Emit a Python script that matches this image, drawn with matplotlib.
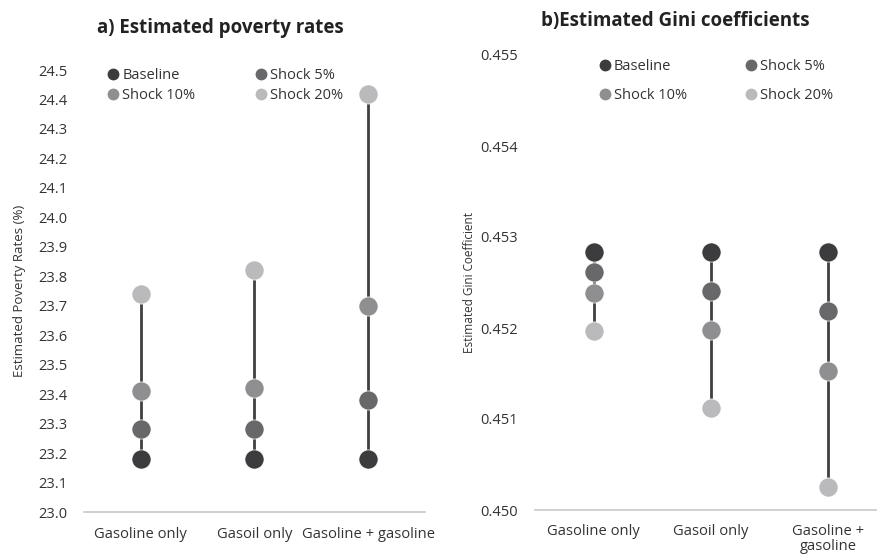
"""Dumbbell-style charts of poverty rates and Gini coefficients under price shocks."""

import matplotlib

matplotlib.use("Agg", force=True)
import matplotlib.pyplot as plt
from matplotlib.lines import Line2D

categories_a = ["Gasoline only", "Gasoil only", "Gasoline + gasoline"]
categories_b = ["Gasoline only", "Gasoil only", "Gasoline +\ngasoline"]
series_names = ["Baseline", "Shock 5%", "Shock 10%", "Shock 20%"]

poverty_baseline = [23.18, 23.18, 23.18]
poverty_shock5 = [23.28, 23.28, 23.38]
poverty_shock10 = [23.41, 23.42, 23.70]
poverty_shock20 = [23.74, 23.82, 24.42]

gini_baseline = [0.45283, 0.45283, 0.45283]
gini_shock5 = [0.45261, 0.45241, 0.45219]
gini_shock10 = [0.45239, 0.45198, 0.45153]
gini_shock20 = [0.45197, 0.45112, 0.45025]

poverty_ticks = [round(23.0 + 0.1 * i, 1) for i in range(16)]
gini_ticks = [0.450, 0.451, 0.452, 0.453, 0.454, 0.455]

COLORS = ["#3c3c3e", "#68686b", "#8f8f92", "#bababd"]
LINE_COLOR = "#404040"
TEXT_COLOR = "#333333"
FONT = "Open Sans"

plt.rcParams["font.family"] = [FONT, "DejaVu Sans"]

W, H = 878, 555
fig = plt.figure(figsize=(W / 100, H / 100), dpi=100)


def px_axes(x0, x1, y_top, y_bottom):
    return fig.add_axes([x0 / W, 1 - y_bottom / H, (x1 - x0) / W, (y_bottom - y_top) / H])


def draw_panel(ax, labels, series):
    x = list(range(len(labels)))
    for i in x:
        vals = [s[i] for s in series]
        ax.plot([i, i], [min(vals), max(vals)], color=LINE_COLOR, lw=2.0, zorder=1)
    for name, vals, color in zip(series_names, series, COLORS):
        ax.scatter(x, vals, s=190, color=color, edgecolors="white", linewidths=0.5, zorder=2, label=name)
    ax.set_xticks(x)
    ax.set_xticklabels(labels, fontsize=10.6, color=TEXT_COLOR, linespacing=1.05)
    ax.set_xlim(-0.5, 2.5)
    for side in ["top", "right", "left"]:
        ax.spines[side].set_visible(False)
    ax.spines["bottom"].set_color("#c8c8c8")
    ax.spines["bottom"].set_linewidth(1.2)
    ax.tick_params(axis="both", length=0, colors=TEXT_COLOR)


def legend_handles():
    return [
        Line2D([], [], marker="o", linestyle="", markersize=7.5, color=c)
        for c in COLORS
    ]


h = legend_handles()
leg_handles = [h[0], h[2], h[1], h[3]]
leg_labels = [series_names[0], series_names[2], series_names[1], series_names[3]]

# a) poverty rates
ax_a = px_axes(84, 425, 70, 512)
draw_panel(ax_a, categories_a, [poverty_baseline, poverty_shock5, poverty_shock10, poverty_shock20])
ax_a.set_ylim(23.0, 24.5)
ax_a.set_yticks(poverty_ticks)
ax_a.set_yticklabels([f"{t:.1f}" for t in poverty_ticks], fontsize=10.5)
ax_a.tick_params(axis="y", pad=12)
ax_a.tick_params(axis="x", pad=11)
ax_a.set_ylabel("Estimated Poverty Rates (%)", fontsize=9.5, color=TEXT_COLOR, labelpad=9)
ax_a.set_title("a) Estimated poverty rates", fontsize=13.5, fontweight="bold", color="#222222",
               x=0.4, pad=27)
ax_a.legend(leg_handles, leg_labels,
            ncol=2, loc="upper left", bbox_to_anchor=(0.035, 1.035), frameon=False, fontsize=10.5,
            handlelength=0.6, handletextpad=0.3, columnspacing=4.2, labelspacing=0.4,
            labelcolor=TEXT_COLOR)

# b) Gini coefficients
ax_b = px_axes(535, 887, 55, 510)
draw_panel(ax_b, categories_b, [gini_baseline, gini_shock5, gini_shock10, gini_shock20])
ax_b.set_ylim(0.450, 0.455)
ax_b.set_yticks(gini_ticks)
ax_b.set_yticklabels([f"{t:.3f}" for t in gini_ticks], fontsize=10.5)
ax_b.tick_params(axis="y", pad=12)
ax_b.tick_params(axis="x", pad=10)
ax_b.set_ylabel("Estimated Gini Coefficient", fontsize=8.5, color=TEXT_COLOR, labelpad=3)
ax_b.set_title("b)Estimated Gini coefficients", fontsize=13.5, fontweight="bold", color="#222222",
               x=0.4, pad=21)
ax_b.legend(leg_handles, leg_labels,
            ncol=2, loc="upper left", bbox_to_anchor=(0.15, 1.02), frameon=False, fontsize=10.5,
            handlelength=0.6, handletextpad=0.3, columnspacing=4.1, labelspacing=0.95,
            labelcolor=TEXT_COLOR)

fig.savefig("out.png", dpi=100)
plt.close(fig)
